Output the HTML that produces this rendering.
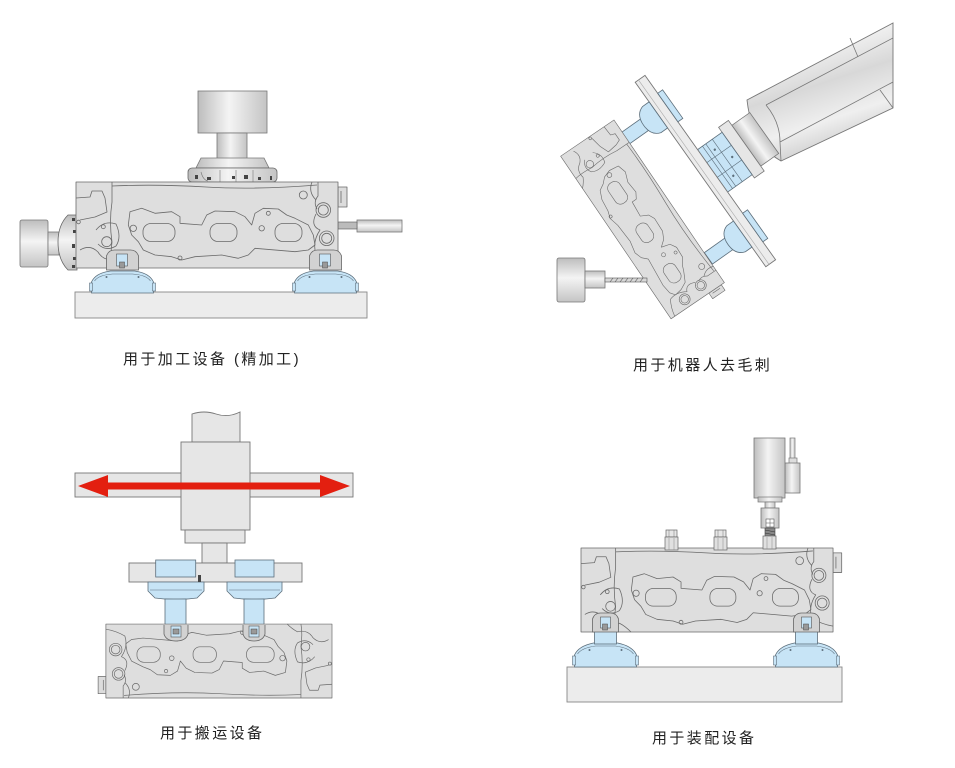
<!DOCTYPE html>
<html><head><meta charset="utf-8">
<style>
html,body{margin:0;padding:0;background:#fff;}
svg{display:block;}
.t{font-family:"Liberation Sans","Noto Sans CJK SC",sans-serif;font-size:15px;letter-spacing:2.4px;fill:#222;}
</style></head><body>
<svg width="955" height="768" viewBox="0 0 955 768" xmlns="http://www.w3.org/2000/svg">
<defs>
 <linearGradient id="cv" x1="0" y1="0" x2="1" y2="0">
  <stop offset="0" stop-color="#bdbdbd"/><stop offset="0.45" stop-color="#f4f4f4"/><stop offset="1" stop-color="#c4c4c4"/>
 </linearGradient>
 <linearGradient id="ch" x1="0" y1="0" x2="0" y2="1">
  <stop offset="0" stop-color="#bdbdbd"/><stop offset="0.45" stop-color="#f4f4f4"/><stop offset="1" stop-color="#c4c4c4"/>
 </linearGradient>
 <linearGradient id="arm" x1="0" y1="0" x2="0.35" y2="1">
  <stop offset="0" stop-color="#d4d4d4"/><stop offset="0.3" stop-color="#f2f2f2"/><stop offset="0.55" stop-color="#d8d8d8"/><stop offset="0.8" stop-color="#efefef"/><stop offset="1" stop-color="#cfcfcf"/>
 </linearGradient>
 <g id="head" fill="none" stroke="#6a6a6a" stroke-width="0.8" stroke-linejoin="round">
  <rect x="262" y="5" width="9" height="20" fill="#dcdcdc"/>
  <path d="M265,9 V21"/>
  <rect x="0" y="0" width="262" height="86" fill="#dedede"/>
  <path d="M36,0 V20 Q33,40 36,60 Q34,75 36,86"/>
  <path d="M36,4 Q80,2 130,5 T241,3"/>
  <path d="M242,0 V14 Q237,20 241,27"/>
  <path d="M0,16 L14,15 L16,9 L26,9 L29,16 L31,30 L19,35 L4,38"/>
  <path d="M54,29.7 L65.7,26.3 L79,31.3 L95.7,29.7 L104,34.7 L104,41.3 L125.7,43 L130.7,33 L139,29 L159,29.7 L169,34.7 L175.7,43 L179,31.3 L187.3,26.3 L202.3,27 L210.7,33 L219,36.3 L232.3,43 L237.3,53 L239,63 L232.3,68 L219,69.7 L179,66.3 L172.3,73 L162.3,76.3 L145.7,73 L119,74.7 L105.7,78 L95.7,74.7 L79,73 L67.3,68 L62.3,59.7 L55.7,53 L52.3,43 Z"/>
  <rect x="67" y="41.5" width="32" height="18" rx="8"/>
  <rect x="134" y="41.5" width="27" height="18" rx="8"/>
  <rect x="199" y="41.5" width="27" height="18" rx="8"/>
  <circle cx="57.3" cy="46.3" r="3.2"/>
  <circle cx="227.3" cy="13" r="4"/>
  <circle cx="247.3" cy="28" r="7.3"/><circle cx="247.3" cy="28" r="5"/>
  <circle cx="250.7" cy="56.3" r="7.3"/><circle cx="250.7" cy="56.3" r="5"/>
  <circle cx="185.7" cy="46.3" r="2.7"/>
  <circle cx="192.3" cy="31.3" r="2"/>
  <circle cx="104" cy="76" r="2"/>
  <circle cx="27.3" cy="44.7" r="2"/>
  <circle cx="30.7" cy="59.7" r="5"/>
  <circle cx="2.5" cy="40" r="1.8"/>
  <path d="M20,48 Q28,38 40,42 Q46,55 40,64 Q30,70 22,62"/>
  <path d="M4,68 Q14,62 22,70 Q28,80 40,77 Q46,80 52,86"/>
  <path d="M240,32 Q234,44 244,48 Q236,60 240,72 Q250,78 262,80"/>
  <path d="M236,0 Q232,10 240,18"/>
 </g>
 <g id="sup1">
  <path d="M-31,0 V-11 Q-27,-20 -12,-22 H12 Q27,-20 31,-11 V0 Z" fill="#c7e4f6" stroke="#5d6f7c" stroke-width="0.8"/>
  <rect x="-33" y="-10" width="3" height="8" fill="#c7e4f6" stroke="#5d6f7c" stroke-width="0.6"/>
  <rect x="30" y="-10" width="3" height="8" fill="#c7e4f6" stroke="#5d6f7c" stroke-width="0.6"/>
  <path d="M-28,-12 Q-24,-18 -10,-19 H10 Q24,-18 28,-12" fill="none" stroke="#5d6f7c" stroke-width="0.6"/>
  <circle cx="-16" cy="-16" r="1" fill="#5d6f7c"/><circle cx="16" cy="-16" r="1" fill="#5d6f7c"/>
  <path d="M-16,-23 L-16,-37 Q-14,-43 -8,-43 H8 Q14,-43 16,-37 L16,-23 Z" fill="#d2d2d2" stroke="#666" stroke-width="0.8"/>
  <rect x="-6" y="-39" width="11" height="12" fill="#c7e4f6" stroke="#555" stroke-width="0.6"/>
  <rect x="-3" y="-31" width="5" height="6" fill="#999" stroke="#444" stroke-width="0.5"/>
 </g>
 <g id="sup4">
  <path d="M-31,0 V-12 Q-27,-21 -12,-24 H12 Q27,-21 31,-12 V0 Z" fill="#c7e4f6" stroke="#5d6f7c" stroke-width="0.8"/>
  <rect x="-33" y="-11" width="3" height="9" fill="#c7e4f6" stroke="#5d6f7c" stroke-width="0.6"/>
  <rect x="30" y="-11" width="3" height="9" fill="#c7e4f6" stroke="#5d6f7c" stroke-width="0.6"/>
  <path d="M-28,-13 Q-24,-19 -10,-21 H10 Q24,-19 28,-13" fill="none" stroke="#5d6f7c" stroke-width="0.6"/>
  <circle cx="-16" cy="-17" r="1" fill="#5d6f7c"/><circle cx="16" cy="-17" r="1" fill="#5d6f7c"/>
  <rect x="-11" y="-41" width="22" height="18" fill="#c7e4f6" stroke="#5d6f7c" stroke-width="0.8"/>
  <path d="M-13,-35 V-48 Q-11,-54 -5,-54 H5 Q11,-54 13,-48 V-35 Z" fill="#d2d2d2" stroke="#666" stroke-width="0.8"/>
  <rect x="-5" y="-50" width="10" height="11" fill="#c7e4f6" stroke="#555" stroke-width="0.6"/>
  <rect x="-3" y="-43" width="5" height="6" fill="#999" stroke="#444" stroke-width="0.5"/>
 </g>
 <g id="bolt">
  <rect x="1" y="0" width="11" height="7" fill="#e6e6e6" stroke="#666" stroke-width="0.7"/>
  <path d="M4,0 V7 M9,0 V7" stroke="#777" stroke-width="0.5"/>
  <rect x="0" y="7" width="13" height="13" fill="#e0e0e0" stroke="#666" stroke-width="0.7"/>
  <path d="M4,8 V20 M9,8 V20" stroke="#888" stroke-width="0.5"/>
 </g>
</defs>

<!-- ============ Q1 ============ -->
<rect x="75" y="292" width="292" height="26" fill="#ececec" stroke="#888" stroke-width="0.9"/>
<!-- spindle -->
<rect x="198" y="91" width="69" height="42" fill="url(#cv)" stroke="#777" stroke-width="0.8"/>
<rect x="217" y="133" width="30" height="26" fill="url(#cv)" stroke="#777" stroke-width="0.8"/>
<polygon points="201,158 264,158 269,168 196,168" fill="url(#cv)" stroke="#777" stroke-width="0.8"/>
<rect x="188" y="168" width="89" height="14" rx="4" fill="url(#cv)" stroke="#666" stroke-width="0.8"/>
<g fill="#444"><rect x="195" y="175" width="3" height="4"/><rect x="207" y="177" width="4" height="3"/><rect x="232" y="176" width="3" height="3"/><rect x="244" y="175" width="4" height="4"/><rect x="258" y="177" width="3" height="3"/><rect x="270" y="176" width="2" height="4"/></g>
<path d="M201,172 Q203,180 208,181 M220,170 V182 M236,170 V182 M253,170 V182" stroke="#777" stroke-width="0.6" fill="none"/>
<!-- left spindle -->
<rect x="20" y="220" width="28" height="47" rx="2" fill="url(#ch)" stroke="#777" stroke-width="0.8"/>
<rect x="48" y="232" width="11" height="23" fill="url(#ch)" stroke="#777" stroke-width="0.8"/>
<path d="M77,215 L68,215 Q58,225 58,242 Q58,260 68,270 L77,270 Z" fill="url(#ch)" stroke="#666" stroke-width="0.8"/>
<g fill="#444"><rect x="72" y="218" width="3" height="3"/><rect x="73" y="230" width="3" height="3"/><rect x="72" y="244" width="3" height="4"/><rect x="73" y="257" width="3" height="3"/><rect x="72" y="265" width="3" height="3"/></g>
<!-- right tool -->
<rect x="357" y="220" width="45" height="12" fill="url(#ch)" stroke="#777" stroke-width="0.8"/>
<rect x="338" y="222" width="19" height="7" fill="#bbb" stroke="#555" stroke-width="0.6"/>
<use href="#head" transform="translate(76,182)"/>
<use href="#sup1" transform="translate(122.5,293)"/>
<use href="#sup1" transform="translate(325.5,293)"/>

<!-- ============ Q2 ============ -->
<!-- arm -->
<path d="M747,100 L893,23 L893,108 L781,161 Q752,145 747,100 Z" fill="url(#arm)" stroke="#777" stroke-width="0.9"/>
<path d="M766,105 L893,38 M780,142 L893,82 M766,105 Q780,122 780,142 L781,161 M850,38 L858,57 M880,90 L893,108" fill="none" stroke="#777" stroke-width="0.8"/>
<g transform="translate(700.5,174.5) rotate(-35.3)">
 <rect x="54" y="-22" width="22" height="50" fill="url(#cv)" stroke="#777" stroke-width="0.8"/>
 <rect x="42" y="-28" width="12" height="62" fill="#e6e6e6" stroke="#777" stroke-width="0.8"/>
 <rect x="12" y="-22" width="30" height="52" fill="#c7e4f6" stroke="#5d6f7c" stroke-width="0.8"/>
 <path d="M18,-22 V30 M22,-22 V30 M30,-22 V30 M12,-6 H42 M12,12 H42" stroke="#5d6f7c" stroke-width="0.6" fill="none"/>
 <circle cx="26" cy="-12" r="1.2" fill="#5d6f7c"/><circle cx="26" cy="20" r="1.2" fill="#5d6f7c"/><circle cx="36" cy="4" r="1.2" fill="#5d6f7c"/>
 <rect x="0" y="-113" width="12" height="226" fill="#ececec" stroke="#777" stroke-width="0.9"/>
 <path d="M4,-113 V113" stroke="#aaa" stroke-width="0.6"/>
 <rect x="12" y="-91" width="6" height="35" fill="#c7e4f6" stroke="#5d6f7c" stroke-width="0.8"/>
 <rect x="12" y="56" width="6" height="35" fill="#c7e4f6" stroke="#5d6f7c" stroke-width="0.8"/>
 <rect x="-42" y="-80" width="26" height="14" fill="#c7e4f6" stroke="#5d6f7c" stroke-width="0.8"/>
 <path d="M0,-89 H-8 Q-18,-86 -18,-73 Q-18,-60 -8,-57 H0 Z" fill="#c7e4f6" stroke="#5d6f7c" stroke-width="0.8"/>
 <rect x="-42" y="66" width="26" height="14" fill="#c7e4f6" stroke="#5d6f7c" stroke-width="0.8"/>
 <path d="M0,57 H-8 Q-18,60 -18,73 Q-18,86 -8,89 H0 Z" fill="#c7e4f6" stroke="#5d6f7c" stroke-width="0.8"/>
</g>
<use href="#head" transform="matrix(0.4213,0.6206,-0.6206,0.4213,614,120)"/>
<!-- drill -->
<rect x="557" y="258" width="28" height="44" rx="2" fill="url(#ch)" stroke="#777" stroke-width="0.8"/>
<rect x="585" y="271" width="20" height="17" fill="url(#ch)" stroke="#777" stroke-width="0.8"/>
<rect x="605" y="278" width="42" height="4" fill="#d8d8d8" stroke="#555" stroke-width="0.6"/>
<path d="M610,282 L613,278 M615,282 L618,278 M620,282 L623,278 M625,282 L628,278 M630,282 L633,278 M635,282 L638,278 M640,282 L643,278" stroke="#555" stroke-width="0.6"/>

<!-- ============ Q3 ============ -->
<rect x="75" y="473" width="278" height="24" fill="#e6e6e6" stroke="#777" stroke-width="0.9"/>
<path d="M192,442 V414 Q204,410 216,414 T240,412 V442 Z" fill="#e6e6e6" stroke="#777" stroke-width="0.9"/>
<rect x="181" y="442" width="69" height="88" fill="#e6e6e6" stroke="#777" stroke-width="0.9"/>
<rect x="185" y="530" width="60" height="13" fill="#e6e6e6" stroke="#777" stroke-width="0.9"/>
<rect x="202" y="543" width="25" height="20" fill="#e6e6e6" stroke="#777" stroke-width="0.9"/>
<rect x="129" y="563" width="173" height="19" fill="#e6e6e6" stroke="#777" stroke-width="0.9"/>
<rect x="155.7" y="560" width="40" height="17" fill="#c7e4f6" stroke="#5d6f7c" stroke-width="0.8"/>
<rect x="235" y="560" width="39" height="17" fill="#c7e4f6" stroke="#5d6f7c" stroke-width="0.8"/>
<path d="M148,582 H204 V591 L197,598 Q176,601 155,598 L148,591 Z" fill="#c7e4f6" stroke="#5d6f7c" stroke-width="0.8"/>
<path d="M227,582 H282 V591 L275,598 Q254,601 234,598 L227,591 Z" fill="#c7e4f6" stroke="#5d6f7c" stroke-width="0.8"/>
<path d="M150,590 H202 M229,590 H280" stroke="#5d6f7c" stroke-width="0.5"/>
<rect x="198" y="575" width="3" height="7" fill="#444"/>
<rect x="165" y="599" width="21" height="27" fill="#c7e4f6" stroke="#5d6f7c" stroke-width="0.8"/>
<rect x="244" y="599" width="20" height="27" fill="#c7e4f6" stroke="#5d6f7c" stroke-width="0.8"/>
<use href="#head" transform="translate(332,698) scale(-0.863,-0.86)"/>
<path d="M164,625 V634 Q166,641 176,641 Q186,641 188,634 V625" fill="#d2d2d2" stroke="#666" stroke-width="0.8"/>
<rect x="171" y="626" width="10" height="11" fill="#c7e4f6" stroke="#555" stroke-width="0.6"/>
<rect x="173" y="629" width="6" height="5" fill="#999" stroke="#444" stroke-width="0.5"/>
<path d="M243,625 V634 Q245,641 254,641 Q263,641 265,634 V625" fill="#d2d2d2" stroke="#666" stroke-width="0.8"/>
<rect x="249" y="626" width="10" height="11" fill="#c7e4f6" stroke="#555" stroke-width="0.6"/>
<rect x="251" y="629" width="6" height="5" fill="#999" stroke="#444" stroke-width="0.5"/>
<!-- red arrow -->
<rect x="104" y="482.5" width="220" height="7" fill="#e31f10"/>
<polygon points="78,486 108,475 108,497" fill="#e31f10"/>
<polygon points="350,486 320,475 320,497" fill="#e31f10"/>

<!-- ============ Q4 ============ -->
<rect x="567" y="667" width="275" height="35" fill="#ececec" stroke="#888" stroke-width="0.9"/>
<use href="#head" transform="translate(581,548) scale(0.962,0.977)"/>
<use href="#sup4" transform="translate(605.5,667)"/>
<use href="#sup4" transform="translate(806.5,667)"/>
<use href="#bolt" transform="translate(665,530)"/>
<use href="#bolt" transform="translate(714,530)"/>
<!-- nutrunner -->
<rect x="790" y="438" width="5" height="21" fill="url(#cv)" stroke="#777" stroke-width="0.7"/>
<rect x="789" y="458" width="8" height="6" fill="#ddd" stroke="#777" stroke-width="0.7"/>
<rect x="785" y="463" width="15" height="30" fill="url(#cv)" stroke="#777" stroke-width="0.8"/>
<rect x="754" y="438" width="31" height="60" fill="url(#cv)" stroke="#777" stroke-width="0.8"/>
<rect x="758" y="497" width="24" height="5" fill="url(#cv)" stroke="#777" stroke-width="0.7"/>
<rect x="765" y="502" width="10" height="6" fill="url(#cv)" stroke="#777" stroke-width="0.7"/>
<rect x="761" y="508" width="18" height="20" fill="url(#cv)" stroke="#777" stroke-width="0.8"/>
<rect x="766" y="519" width="8" height="8" fill="#fff" stroke="#555" stroke-width="0.6"/>
<path d="M770,519 V527 M766,523 H774" stroke="#555" stroke-width="0.5"/>
<rect x="765" y="528" width="10" height="8" fill="#888" stroke="#444" stroke-width="0.6"/>
<path d="M765,530 L775,532 M765,533 L775,535" stroke="#333" stroke-width="0.6"/>
<rect x="763" y="536" width="13" height="13" fill="#e0e0e0" stroke="#666" stroke-width="0.7"/>
<path d="M767,537 V549 M772,537 V549" stroke="#888" stroke-width="0.5"/>

<!-- labels -->
<text class="t" x="123" y="364">用于加工设备 (精加工)</text>
<text class="t" x="633" y="370">用于机器人去毛刺</text>
<text class="t" x="160" y="738">用于搬运设备</text>
<text class="t" x="652" y="743">用于装配设备</text>
</svg>
</body></html>
